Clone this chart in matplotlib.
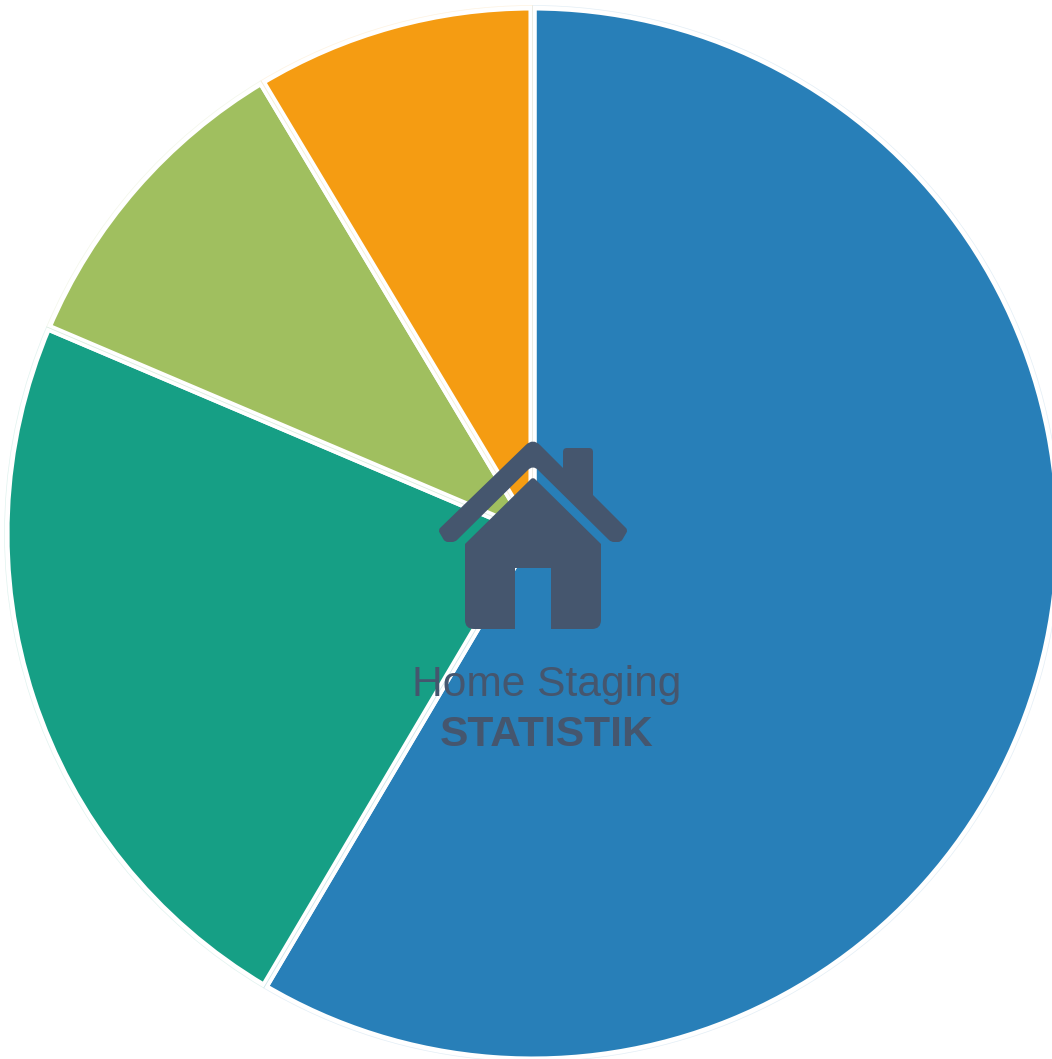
import matplotlib
matplotlib.use("Agg")
import matplotlib.pyplot as plt
from matplotlib.patches import PathPatch
from matplotlib.path import Path

shares = [58.5, 22.9, 10.0, 8.6]
slice_colors = ["#287fb8", "#169f85", "#a0bf5f", "#f59c12"]
title_top = "Home Staging"
title_bottom = "STATISTIK"
icon_color = "#45566e"

W, H = 1052, 1059
CX, CY, R = 532.5, 533.5, 527

# corners are (x, y, radius) in pixels, y pointing down
def rounded_poly(corners):
    verts, codes = [], []
    n = len(corners)
    for i in range(n):
        px, py, _ = corners[i - 1]
        cx, cy, radius = corners[i]
        nx, ny, _ = corners[(i + 1) % n]
        d1 = ((cx - px) ** 2 + (cy - py) ** 2) ** 0.5
        d2 = ((nx - cx) ** 2 + (ny - cy) ** 2) ** 0.5
        r = min(radius, d1 / 2, d2 / 2)
        a = (cx - (cx - px) * r / d1, cy - (cy - py) * r / d1)
        b = (cx + (nx - cx) * r / d2, cy + (ny - cy) * r / d2)
        verts += [a, (cx, cy), b]
        codes += [Path.MOVETO if i == 0 else Path.LINETO, Path.CURVE3, Path.CURVE3]
    verts.append(verts[0])
    codes.append(Path.CLOSEPOLY)
    return Path(verts, codes)

fig = plt.figure(figsize=(W / 100, H / 100), dpi=100)
ax = fig.add_axes([0, 0, 1, 1])

# y axis is inverted, so counterclock here runs clockwise on screen
ax.pie(
    shares,
    colors=slice_colors,
    center=(CX, CY),
    radius=R,
    startangle=270,
    counterclock=True,
    frame=False,
    wedgeprops={"edgecolor": "white", "linewidth": 5.8},
)

# faint hairline along each slice outline
outlines, _ = ax.pie(
    shares,
    center=(CX, CY),
    radius=R + 1,
    startangle=270,
    counterclock=True,
    frame=False,
    wedgeprops={"facecolor": "none", "linewidth": 0.5},
)
for wedge, color in zip(outlines, slice_colors):
    wedge.set_edgecolor(color)
    wedge.set_alpha(0.13)

ax.set_xlim(0, W)
ax.set_ylim(H, 0)
ax.set_aspect("auto")
ax.axis("off")

# house body with door cut-out
body = [(533, 477, 3), (601, 544, 0), (601, 629, 9), (551, 629, 0), (551, 568, 0),
        (515, 568, 0), (515, 629, 0), (465, 629, 9), (465, 544, 0)]
ax.add_patch(PathPatch(rounded_poly(body), fc=icon_color, ec="none", zorder=5))

# roof band and chimney
roof = [(533, 438, 10), (563, 468, 0), (563, 448, 4), (593, 448, 4), (593, 495, 0),
        (628, 530, 3), (621, 542, 3), (611, 542, 3), (533, 465, 7), (455, 542, 3),
        (445, 542, 3), (438, 530, 3)]
ax.add_patch(PathPatch(rounded_poly(roof), fc=icon_color, ec="none", zorder=5))

ax.text(547, 685, title_top, color=icon_color, fontsize=30.6,
        family="Liberation Sans", ha="center", va="center", zorder=6)
ax.text(547, 735, title_bottom, color=icon_color, fontsize=30.6,
        family="Liberation Sans", fontweight="bold", ha="center", va="center", zorder=6)

fig.savefig("out.png", dpi=100, facecolor="white")
